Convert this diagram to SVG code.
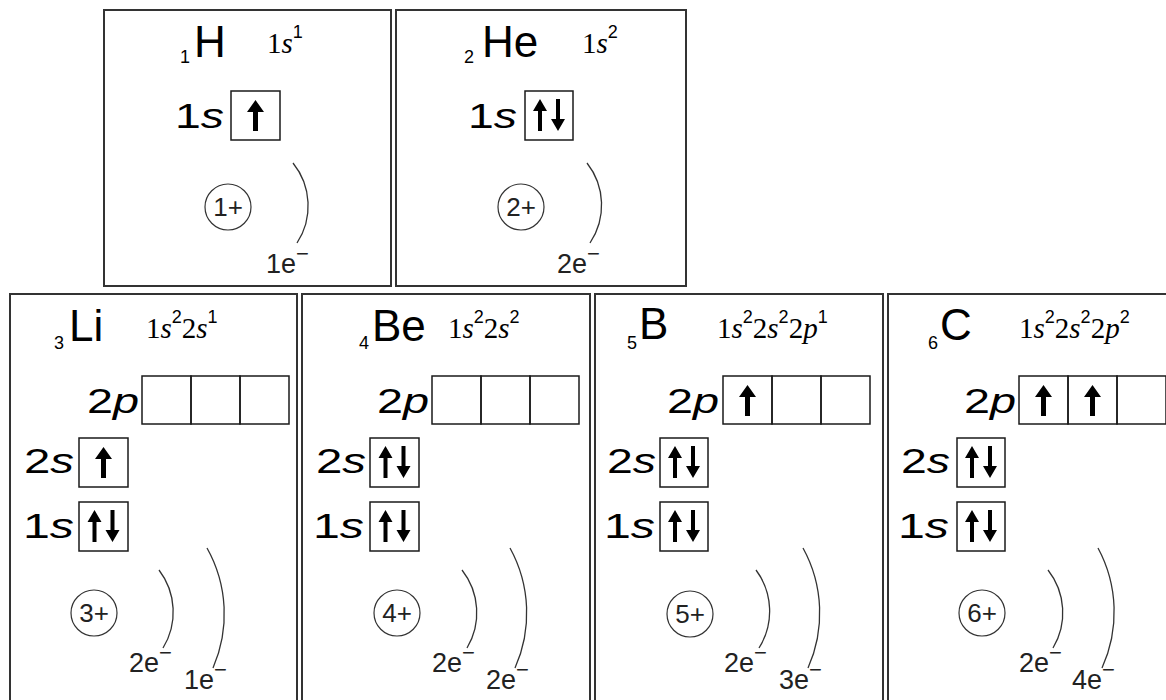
<svg xmlns="http://www.w3.org/2000/svg" xmlns:xlink="http://www.w3.org/1999/xlink" width="1166" height="700" viewBox="0 0 1166 700">
<style>
.frame{fill:none;stroke:#333;stroke-width:2}
.orb{fill:none;stroke:#1a1a1a;stroke-width:1.5}
.nuc{fill:none;stroke:#333;stroke-width:1.2}
.shell{fill:none;stroke:#333;stroke-width:1.3}
.sym{font-family:"Liberation Sans",Arial,sans-serif;font-size:44px;fill:#000}
.sub{font-family:"Liberation Sans",Arial,sans-serif;font-size:18px;fill:#000}
.lab{font-family:"Liberation Sans",Arial,sans-serif;font-size:35px;fill:#000}
.it{font-style:italic}
.cfg{font-family:"Liberation Serif","Times New Roman",serif;font-size:29px;fill:#000}
.sup{font-family:"Liberation Sans",Arial,sans-serif;font-size:18px}
.el{font-family:"Liberation Sans",Arial,sans-serif;font-size:27px;fill:#222}
.ch{font-family:"Liberation Sans",Arial,sans-serif;font-size:26px;fill:#222;text-anchor:middle}
</style>
<defs>
<path id="up1" d="M0,0 L8.5,12 L2.5,12 L2.5,31 L-2.5,31 L-2.5,12 L-8.5,12 Z" fill="#000"/>
<path id="up2" d="M0,0 L7,12 L2,12 L2,32 L-2,32 L-2,12 L-7,12 Z" fill="#000"/>
<path id="dn2" d="M0,32 L7,20 L2,20 L2,0 L-2,0 L-2,20 L-7,20 Z" fill="#000"/>
</defs>

<g id="H">
<rect class="frame" x="104" y="10" width="287" height="276"/>
<text class="sub" x="180" y="63">1</text>
<text class="sym" x="194" y="57">H</text>
<text class="cfg" x="267" y="53">1<tspan class="it">s</tspan><tspan class="sup" dy="-15">1</tspan></text>
<text class="lab" x="175" y="128" textLength="49" lengthAdjust="spacingAndGlyphs">1<tspan class="it">s</tspan></text>
<rect class="orb" x="231" y="91" width="49" height="49"/>
<use xlink:href="#up1" x="255.5" y="100"/>
<circle class="nuc" cx="228" cy="207" r="23"/>
<text class="ch" x="228" y="216">1+</text>
<path class="shell" d="M293,163 A68,68 0 0 1 297,243"/>
<text class="el" x="266" y="273">1e<tspan font-size="22" dy="-12">−</tspan></text>
</g>

<g id="He">
<rect class="frame" x="396" y="10" width="290" height="276"/>
<text class="sub" x="464" y="63">2</text>
<text class="sym" x="482" y="57">He</text>
<text class="cfg" x="582" y="53">1<tspan class="it">s</tspan><tspan class="sup" dy="-15">2</tspan></text>
<text class="lab" x="468" y="128" textLength="49" lengthAdjust="spacingAndGlyphs">1<tspan class="it">s</tspan></text>
<rect class="orb" x="525" y="91" width="48" height="49"/>
<use xlink:href="#up2" x="540" y="99"/>
<use xlink:href="#dn2" x="558" y="99"/>
<circle class="nuc" cx="521" cy="207" r="23"/>
<text class="ch" x="521" y="216">2+</text>
<path class="shell" d="M587,163 A68,68 0 0 1 590,243"/>
<text class="el" x="557" y="273">2e<tspan font-size="22" dy="-12">−</tspan></text>
</g>

<g id="Li">
<rect class="frame" x="10" y="294" width="287" height="430"/>
<text class="sub" x="54" y="349">3</text>
<text class="sym" x="69" y="341">Li</text>
<text class="cfg" x="146" y="338">1<tspan class="it">s</tspan><tspan class="sup" dy="-15">2</tspan><tspan dy="15">2</tspan><tspan class="it">s</tspan><tspan class="sup" dy="-15">1</tspan></text>
<text class="lab" x="87" y="413" textLength="52" lengthAdjust="spacingAndGlyphs">2<tspan class="it">p</tspan></text>
<rect class="orb" x="142" y="376" width="49" height="48"/>
<rect class="orb" x="191" y="376" width="49" height="48"/>
<rect class="orb" x="240" y="376" width="49" height="48"/>
<text class="lab" x="24" y="473" textLength="50" lengthAdjust="spacingAndGlyphs">2<tspan class="it">s</tspan></text>
<rect class="orb" x="79" y="438" width="49" height="49"/>
<use xlink:href="#up1" x="103.5" y="447"/>
<text class="lab" x="23" y="538" textLength="51" lengthAdjust="spacingAndGlyphs">1<tspan class="it">s</tspan></text>
<rect class="orb" x="79" y="502" width="49" height="49"/>
<use xlink:href="#up2" x="94.5" y="510"/>
<use xlink:href="#dn2" x="112.5" y="510"/>
<circle class="nuc" cx="94" cy="613" r="23"/>
<text class="ch" x="94" y="622">3+</text>
<path class="shell" d="M159,570 A69,69 0 0 1 163,648"/>
<path class="shell" d="M207,548 A135,135 0 0 1 213,668"/>
<text class="el" x="129" y="672">2e<tspan font-size="22" dy="-12">−</tspan></text>
<text class="el" x="184" y="689">1e<tspan font-size="22" dy="-12">−</tspan></text>
</g>

<g id="Be">
<rect class="frame" x="302" y="294" width="288" height="430"/>
<text class="sub" x="359" y="349">4</text>
<text class="sym" x="372" y="341">Be</text>
<text class="cfg" x="448" y="338">1<tspan class="it">s</tspan><tspan class="sup" dy="-15">2</tspan><tspan dy="15">2</tspan><tspan class="it">s</tspan><tspan class="sup" dy="-15">2</tspan></text>
<text class="lab" x="377" y="413" textLength="52" lengthAdjust="spacingAndGlyphs">2<tspan class="it">p</tspan></text>
<rect class="orb" x="432" y="376" width="49" height="48"/>
<rect class="orb" x="481" y="376" width="49" height="48"/>
<rect class="orb" x="530" y="376" width="49" height="48"/>
<text class="lab" x="316" y="473" textLength="50" lengthAdjust="spacingAndGlyphs">2<tspan class="it">s</tspan></text>
<rect class="orb" x="370" y="438" width="49" height="49"/>
<use xlink:href="#up2" x="385.5" y="446"/>
<use xlink:href="#dn2" x="403.5" y="446"/>
<text class="lab" x="313" y="538" textLength="51" lengthAdjust="spacingAndGlyphs">1<tspan class="it">s</tspan></text>
<rect class="orb" x="370" y="502" width="49" height="49"/>
<use xlink:href="#up2" x="385.5" y="510"/>
<use xlink:href="#dn2" x="403.5" y="510"/>
<circle class="nuc" cx="397" cy="613" r="23"/>
<text class="ch" x="397" y="622">4+</text>
<path class="shell" d="M462,570 A69,69 0 0 1 467,648"/>
<path class="shell" d="M510,548 A135,135 0 0 1 515,668"/>
<text class="el" x="432" y="672">2e<tspan font-size="22" dy="-12">−</tspan></text>
<text class="el" x="486" y="689">2e<tspan font-size="22" dy="-12">−</tspan></text>
</g>

<g id="B">
<rect class="frame" x="595" y="294" width="288" height="430"/>
<text class="sub" x="627" y="349">5</text>
<text class="sym" x="639" y="339">B</text>
<text class="cfg" x="717" y="338">1<tspan class="it">s</tspan><tspan class="sup" dy="-15">2</tspan><tspan dy="15">2</tspan><tspan class="it">s</tspan><tspan class="sup" dy="-15">2</tspan><tspan dy="15">2</tspan><tspan class="it">p</tspan><tspan class="sup" dy="-15">1</tspan></text>
<text class="lab" x="667" y="413" textLength="52" lengthAdjust="spacingAndGlyphs">2<tspan class="it">p</tspan></text>
<rect class="orb" x="723" y="376" width="49" height="48"/>
<rect class="orb" x="772" y="376" width="49" height="48"/>
<rect class="orb" x="821" y="376" width="49" height="48"/>
<use xlink:href="#up1" x="747.5" y="385"/>
<text class="lab" x="607" y="473" textLength="49" lengthAdjust="spacingAndGlyphs">2<tspan class="it">s</tspan></text>
<rect class="orb" x="660" y="438" width="48" height="49"/>
<use xlink:href="#up2" x="675" y="446"/>
<use xlink:href="#dn2" x="693" y="446"/>
<text class="lab" x="604" y="538" textLength="51" lengthAdjust="spacingAndGlyphs">1<tspan class="it">s</tspan></text>
<rect class="orb" x="660" y="502" width="48" height="49"/>
<use xlink:href="#up2" x="675" y="510"/>
<use xlink:href="#dn2" x="693" y="510"/>
<circle class="nuc" cx="690" cy="614" r="23"/>
<text class="ch" x="690" y="623">5+</text>
<path class="shell" d="M756,570 A69,69 0 0 1 759,648"/>
<path class="shell" d="M803,548 A135,135 0 0 1 808,668"/>
<text class="el" x="724" y="672">2e<tspan font-size="22" dy="-12">−</tspan></text>
<text class="el" x="779" y="689">3e<tspan font-size="22" dy="-12">−</tspan></text>
</g>

<g id="C">
<rect class="frame" x="888" y="294" width="300" height="430"/>
<text class="sub" x="928" y="349">6</text>
<text class="sym" x="940" y="340">C</text>
<text class="cfg" x="1019" y="338">1<tspan class="it">s</tspan><tspan class="sup" dy="-15">2</tspan><tspan dy="15">2</tspan><tspan class="it">s</tspan><tspan class="sup" dy="-15">2</tspan><tspan dy="15">2</tspan><tspan class="it">p</tspan><tspan class="sup" dy="-15">2</tspan></text>
<text class="lab" x="964" y="413" textLength="52" lengthAdjust="spacingAndGlyphs">2<tspan class="it">p</tspan></text>
<rect class="orb" x="1019" y="376" width="49" height="48"/>
<rect class="orb" x="1068" y="376" width="49" height="48"/>
<rect class="orb" x="1117" y="376" width="49" height="48"/>
<use xlink:href="#up1" x="1043.5" y="385"/>
<use xlink:href="#up1" x="1092.5" y="385"/>
<text class="lab" x="901" y="473" textLength="49" lengthAdjust="spacingAndGlyphs">2<tspan class="it">s</tspan></text>
<rect class="orb" x="957" y="438" width="48" height="49"/>
<use xlink:href="#up2" x="972" y="446"/>
<use xlink:href="#dn2" x="990" y="446"/>
<text class="lab" x="898" y="538" textLength="51" lengthAdjust="spacingAndGlyphs">1<tspan class="it">s</tspan></text>
<rect class="orb" x="957" y="502" width="48" height="49"/>
<use xlink:href="#up2" x="972" y="510"/>
<use xlink:href="#dn2" x="990" y="510"/>
<circle class="nuc" cx="982" cy="613" r="23"/>
<text class="ch" x="982" y="622">6+</text>
<path class="shell" d="M1048,570 A69,69 0 0 1 1053,648"/>
<path class="shell" d="M1098,548 A135,135 0 0 1 1102,668"/>
<text class="el" x="1019" y="672">2e<tspan font-size="22" dy="-12">−</tspan></text>
<text class="el" x="1072" y="689">4e<tspan font-size="22" dy="-12">−</tspan></text>
</g>

<g id="connectors"></g>
</svg>
